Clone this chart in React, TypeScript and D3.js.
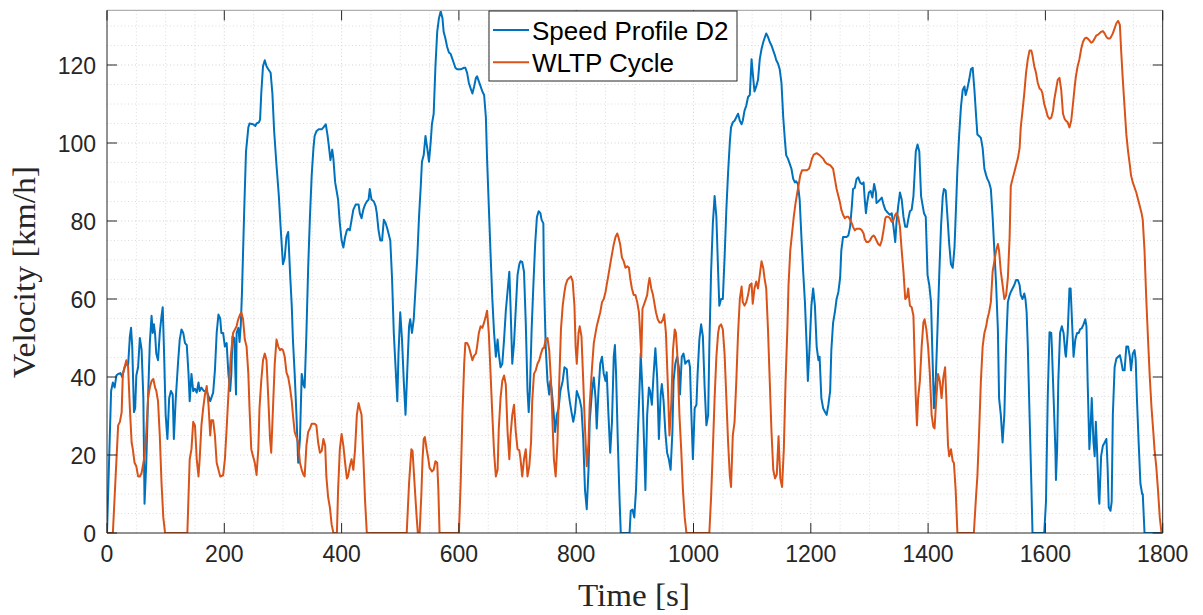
import React, { useRef, useEffect } from "react";
import * as d3 from "d3";

// [time s, velocity km/h]
const speedProfileD2: [number, number][] = [
  [0,0],[7,36.4],[10,38.6],[13,37.3],[16,40.4],[19,40.8],[23,41],[26,40],[30,42.5],[33,43.4],[36,43],[39,50.4],[41,52.6],[43,47.8],[46,31],[48,32],[50,40.4],[53,42.5],[56,50],[59,47],[62,34.6],[64,7.5],[67,18],[70,34.6],[73,48.7],[76,55.7],[78,51.3],[80,53.5],[82,51],[84,46],[87,44.3],[90,51.3],[93,55.7],[95,57.9],[97,47.8],[100,30.3],[103,24.1],[106,34.6],[109,36.4],[112,35.5],[114,24.1],[117,33.8],[121,43.4],[124,49.6],[127,52.2],[130,51.3],[133,48.7],[136,48.2],[139,40.8],[141,33.8],[144,40.8],[147,36.4],[150,37],[153,36],[156,38.6],[158,36.4],[161,37.3],[165,36.4],[170,36.4],[176,33.8],[181,36],[184,41.7],[187,51.3],[190,56],[193,55],[195,51.3],[198,51.3],[201,47.8],[204,48.7],[207,40.8],[210,36.4],[212,40.8],[214,50.4],[217,50],[220,35.5],[221,51.3],[224,52.6],[226,49],[228,53],[230,61],[234,83],[237,97.8],[241,104],[243,105],[249,104.8],[253,104.4],[255,105],[259,105.3],[261,106],[263,112.7],[266,119.7],[269,121.2],[272,119.7],[275,118.9],[279,118],[282,112.7],[285,103],[289,94.3],[293,86.4],[296,78.5],[300,68.9],[303,70.6],[306,75.9],[309,77.2],[312,67],[315,58.3],[317,49.6],[320,40.8],[323,30.3],[326,18],[329,24.1],[332,40.8],[335,38],[337,37.3],[340,51.3],[343,68],[346,81],[349,91.7],[352,98.7],[354,101.8],[357,103],[361,103.5],[366,103.5],[369,104],[373,104.8],[376,102],[378,99.6],[381,95.6],[384,98.3],[386,96],[389,89.9],[392,87.3],[394,85.5],[397,79.4],[400,75],[403,73.2],[406,75.9],[409,77.6],[411,78],[414,77.6],[417,80.3],[420,82.9],[424,84.2],[429,84.2],[431,82],[434,80.7],[437,82.9],[440,84.2],[443,85],[446,85.5],[448,88.2],[451,85.5],[455,85],[458,83.8],[460,82],[463,77.6],[466,75],[469,75],[472,80.3],[475,79.5],[478,78],[480,76.8],[483,75],[486,65.4],[489,51.3],[492,42.5],[495,33.8],[497,46],[500,56.6],[503,49.6],[506,39],[509,30.3],[512,41.7],[515,53],[517,54.8],[520,51.3],[523,54.8],[526,62.7],[529,70.6],[532,81.1],[535,89],[537,95.2],[540,96.9],[543,101.8],[546,98.7],[549,95.2],[552,100.4],[554,104.8],[557,107.5],[560,119.7],[563,128.5],[566,132],[569,133.8],[572,132],[574,128.5],[577,126.8],[580,124.6],[583,123.2],[586,122.8],[589,121.5],[592,120.2],[594,119.3],[597,118.9],[603,118.9],[609,119.3],[611,119.3],[614,118],[617,115.4],[620,114],[623,112.7],[626,114.5],[629,116.7],[631,117.1],[634,115.8],[637,114.5],[640,113.2],[643,112.3],[646,106.6],[648,96],[651,83.8],[654,71.5],[657,60],[660,51.3],[663,45.2],[666,49.6],[668,46],[671,42.5],[674,43.4],[677,49.6],[680,57],[683,62],[686,67],[688,58.3],[691,43.4],[694,48.7],[697,57.5],[700,66.2],[703,68.9],[705,69.7],[708,69.5],[711,67],[714,54],[717,36.4],[719,31],[721,36.4],[724,52.2],[727,63.6],[730,74],[733,81],[736,82.5],[739,82],[741,80.3],[744,79.4],[745,65.4],[748,47.8],[751,39],[754,35.5],[756,39],[758,37],[761,32],[764,25.9],[767,30.3],[770,32],[773,36.4],[777,39],[780,42.5],[784,42],[786,37.3],[789,33.8],[792,31],[795,28.5],[798,31],[801,36.4],[803,35.5],[806,34.2],[809,32],[812,24.1],[815,11],[818,6.1],[821,16.2],[823,28.5],[827,36.4],[830,39.9],[833,34.6],[835,26.8],[838,36.4],[841,43.4],[844,45.2],[847,40.8],[850,39],[852,41.2],[855,30.3],[858,20.6],[861,28.5],[864,45.2],[866,48.2],[868,40.8],[871,23.2],[874,8.3],[876,0],[891,0],[893,5.7],[896,6],[899,4],[902,11],[905,25],[908,37.3],[910,46],[913,36.4],[916,21.5],[918,11],[921,30.3],[924,37.3],[926,36.4],[929,32.9],[932,40.8],[935,47.4],[938,40],[941,24.1],[944,35.5],[946,38.2],[949,33.8],[952,25.9],[955,20.6],[958,18.9],[961,16.2],[964,25.9],[966,39],[969,43.4],[972,45.2],[975,42.5],[977,35.5],[980,45.2],[983,46],[986,43.4],[989,44],[992,44.3],[994,42.5],[996,32],[999,18.9],[1002,32],[1005,32.9],[1007,40.8],[1010,49.6],[1013,53.5],[1016,50.4],[1019,37.3],[1022,27.6],[1025,30.3],[1027,47.8],[1030,67],[1033,79.4],[1036,86.4],[1039,81.1],[1042,67],[1044,58.3],[1047,60],[1050,60],[1053,70.6],[1056,82.9],[1059,92.5],[1062,100.4],[1064,104],[1067,105.3],[1070,105.7],[1073,106.6],[1076,107.5],[1079,105.7],[1082,104.8],[1084,105.7],[1087,108.3],[1090,109.6],[1093,111.8],[1096,112.3],[1099,121.5],[1101,118],[1104,113.2],[1107,114.5],[1110,116.2],[1113,121.5],[1116,124.1],[1119,125.9],[1121,126.8],[1124,128.1],[1127,127.2],[1130,125.9],[1133,125],[1136,123.7],[1139,122.4],[1141,121.3],[1144,120.4],[1147,118.9],[1150,115.4],[1153,106.6],[1156,100.4],[1158,96.9],[1161,96],[1164,94.7],[1167,93.4],[1170,90.8],[1173,89.9],[1175,90.2],[1178,89.5],[1181,85.5],[1184,75.9],[1187,67],[1190,59.2],[1193,47.8],[1195,39],[1198,47.8],[1201,58.3],[1204,62.7],[1207,58.3],[1210,47.8],[1213,44.3],[1215,45.2],[1218,34.6],[1221,32],[1224,31.1],[1227,30.3],[1230,32.9],[1233,36.4],[1235,46.9],[1238,53.9],[1241,56.6],[1244,60],[1247,61.8],[1250,65.4],[1252,72.4],[1255,75.9],[1258,75.9],[1261,75.9],[1264,76.3],[1267,78.5],[1270,83.8],[1272,88.2],[1275,88.5],[1278,90.8],[1281,91.2],[1284,89.9],[1287,89.5],[1290,89.9],[1292,85.5],[1294,82],[1296,84.6],[1299,87.3],[1302,87.7],[1305,86],[1308,89.5],[1311,87.3],[1312,84.6],[1315,85],[1318,85.5],[1321,86],[1324,84.2],[1327,82.9],[1329,82.5],[1332,82],[1335,81.6],[1338,82],[1341,78.5],[1344,74.6],[1346,79.4],[1349,83.8],[1352,87.3],[1355,85.5],[1358,81.1],[1361,78.5],[1364,78.5],[1366,80.3],[1369,82.5],[1372,82.9],[1375,86.4],[1377,92],[1379,97.8],[1382,99.6],[1385,97.8],[1388,86.4],[1390,84.6],[1393,82],[1396,81.1],[1399,66.2],[1402,63.6],[1405,59.2],[1407,47.8],[1410,32],[1413,39],[1416,52.2],[1419,66.2],[1422,78.5],[1425,86.4],[1427,88.2],[1430,87.8],[1433,81.1],[1436,74.1],[1439,68.9],[1442,68],[1445,73.2],[1447,81.1],[1450,93.4],[1453,102.2],[1456,109.2],[1459,113.6],[1462,114.5],[1464,112.3],[1467,114],[1470,116.2],[1473,118.9],[1476,119.3],[1479,113.6],[1482,106.6],[1484,102.2],[1487,101.8],[1490,101.3],[1493,98.7],[1496,93.4],[1499,91.7],[1501,90.8],[1504,89.9],[1507,88.2],[1510,81.1],[1513,72.4],[1516,63.6],[1519,52.2],[1521,34.6],[1524,30.3],[1527,23.2],[1530,30.3],[1533,47.8],[1536,59.2],[1539,61],[1541,61.8],[1544,62.7],[1547,63.6],[1550,64.9],[1553,64.9],[1556,63.6],[1558,61],[1561,60],[1564,61.4],[1566,60],[1568,56.6],[1570,47.8],[1573,30.3],[1576,12.7],[1578,0],[1598,0],[1601,8],[1604,35],[1607,51.5],[1610,51.3],[1611,47.8],[1614,34.6],[1617,21.5],[1618,13.6],[1620,21.5],[1622,39],[1625,51.3],[1628,53],[1631,51.3],[1634,46],[1635,45.2],[1638,51.3],[1641,62.7],[1643,62.7],[1646,52.2],[1648,45.2],[1651,49.6],[1654,51.3],[1657,51.3],[1659,52.2],[1662,52.5],[1665,53.5],[1668,54.8],[1670,53],[1672,39],[1675,21.5],[1677,26.8],[1679,34.6],[1682,23.2],[1684,19.7],[1686,28.5],[1688,21.5],[1691,9.2],[1692,7.5],[1695,19.7],[1698,22.4],[1701,23.2],[1704,24.1],[1706,17.1],[1708,6.6],[1711,5.7],[1713,8],[1715,30.3],[1718,42.5],[1721,44.7],[1724,45.2],[1727,45.6],[1729,44.3],[1732,41.7],[1735,41.7],[1738,47.8],[1741,47.8],[1744,45.2],[1746,41.7],[1749,46],[1752,46.9],[1754,44.3],[1756,34.6],[1759,23.2],[1762,12.7],[1765,10],[1766,10],[1769,0],[1800,0]
];

const wltpCycle: [number, number][] = [
  [0,0],[10,0],[19,27.6],[22,28.5],[25,31],[27,40.8],[30,42.5],[33,44.3],[36,42.5],[39,32],[42,23.2],[44,21.5],[47,18],[50,17.1],[53,14.5],[56,14.5],[59,15.4],[62,18],[64,19.7],[67,25.9],[70,34.6],[73,37.3],[76,39],[79,39.5],[82,37.3],[84,36.5],[87,33.8],[90,25],[93,12.7],[96,4],[99,0],[137,0],[141,18.9],[144,21.5],[147,28.5],[150,27.6],[153,18.9],[156,14.5],[158,18.9],[161,27.6],[164,32],[167,35.5],[170,37.7],[173,33],[176,25],[178,28.9],[181,28.9],[184,25],[187,18],[193,14.5],[198,14.8],[201,18.9],[204,26.8],[207,35.5],[211,45.2],[215,51.3],[221,53],[223,54.4],[226,55.7],[229,56.6],[232,54.8],[235,49.6],[238,47.8],[241,40.8],[243,32],[246,21.5],[249,19.7],[252,18],[255,14.9],[258,21.5],[260,32],[263,39],[266,44.3],[269,46],[272,44.3],[275,34.6],[278,24.1],[280,20.6],[283,32],[286,43.4],[289,49.6],[292,47.8],[295,46.9],[298,47.2],[300,46.9],[303,45.2],[306,41.2],[309,39.9],[312,37.3],[315,33.8],[317,30.3],[320,25.9],[323,24.6],[326,23.2],[329,18],[332,16.2],[335,14.9],[337,14.5],[340,22.4],[343,25.9],[346,26.8],[349,28],[354,28],[357,27.6],[360,23.2],[363,20.6],[366,21],[369,24.1],[372,22.4],[374,14.5],[377,9.2],[380,6.6],[383,2.2],[386,0],[392,0],[394,11],[397,21.5],[400,25.4],[403,22.4],[406,18],[409,14],[411,14.5],[414,17.1],[417,18.9],[420,16.2],[423,21.5],[426,30.3],[429,33.3],[431,32],[434,30.3],[437,19.7],[440,8.3],[443,0],[511,0],[515,12.7],[519,21.5],[521,21],[524,13.6],[528,4],[530,0],[533,0],[536,10],[538,18.9],[540,24.1],[542,24.6],[545,21.5],[548,18.9],[550,16.7],[554,15.8],[557,16.2],[560,18.4],[563,18],[565,11],[567,0],[600,0],[603,12.7],[606,30.3],[609,43.4],[611,48.7],[614,48.7],[617,47.8],[620,46],[623,44.3],[626,45.5],[629,46],[631,47.8],[634,51.3],[637,53],[640,52.6],[643,54],[646,55.7],[648,57],[651,51.3],[654,40.8],[657,30.3],[660,20.6],[663,14.5],[666,16.2],[668,26.8],[671,34.6],[674,39],[677,40.4],[680,38],[683,25.9],[686,18.9],[688,25],[691,30.3],[694,32.9],[697,25.9],[700,21.5],[703,21.2],[705,19],[708,14.5],[711,18.9],[714,21.5],[717,14.5],[720,17.1],[723,23.2],[725,33.8],[728,40.8],[731,41.7],[734,43.4],[737,44.3],[740,46],[743,47.4],[745,47.4],[748,49.6],[751,50],[754,46.9],[757,39],[760,26.8],[762,18.9],[765,14.5],[768,23.2],[771,38.2],[774,52.2],[777,58.3],[780,61.8],[782,63.6],[785,64.9],[788,65.4],[791,65.8],[794,64.5],[797,58.3],[799,47.8],[801,43.4],[804,51.3],[806,53],[809,50.4],[812,39],[815,26.8],[818,17.1],[821,23.2],[823,32.9],[827,42.5],[830,48.7],[833,51.3],[835,53],[838,54.8],[841,56.6],[844,59.2],[847,60],[850,61.8],[852,63.6],[855,66.2],[858,68.9],[861,71.5],[864,74],[867,75.9],[870,76.8],[872,75.9],[875,74],[878,70.6],[881,69.7],[884,68],[887,68.4],[890,68],[892,65.4],[895,62.7],[898,61],[901,61],[904,59.2],[907,56.6],[909,51.3],[911,45],[913,57.5],[917,59.2],[921,61],[923,63.6],[925,65.4],[928,62.7],[931,61],[933,59.2],[936,56.6],[939,54.8],[942,54],[945,54],[948,54.8],[950,56.1],[953,51.3],[956,39],[959,25],[962,32.9],[965,46.9],[968,52.2],[970,51.3],[973,44.3],[976,30.3],[979,21.5],[982,11],[985,4],[988,0],[1027,0],[1030,9.2],[1033,21.5],[1036,34.6],[1039,45.2],[1042,51.3],[1044,53],[1047,53.5],[1050,52.2],[1053,46],[1056,34.6],[1059,23.2],[1062,14.5],[1064,11.8],[1067,25],[1070,28.5],[1073,39],[1076,51.3],[1079,60],[1082,63.2],[1084,59.2],[1087,58.3],[1090,59.2],[1093,61],[1096,63.6],[1099,64],[1101,58.8],[1104,62.7],[1107,64.5],[1110,62.7],[1113,66.2],[1116,69.7],[1119,67.9],[1121,65.4],[1124,62.7],[1127,52.2],[1130,39],[1133,25.9],[1136,16.2],[1139,14],[1142,15],[1145,24.8],[1148,14],[1151,11.8],[1154,21.5],[1157,39],[1160,52.2],[1162,63.6],[1165,72.4],[1168,76.8],[1171,81.1],[1174,84.6],[1177,87.3],[1180,89.9],[1182,91.7],[1185,93],[1193,93],[1197,93.4],[1199,94.3],[1202,96],[1205,97],[1210,97.4],[1215,96.9],[1221,96],[1224,95.2],[1227,94.7],[1233,94.3],[1238,93.4],[1241,90.8],[1244,88.2],[1247,86.4],[1250,84.6],[1252,82.9],[1255,81.6],[1258,80.7],[1261,81.1],[1264,81.1],[1267,80.3],[1270,79.4],[1272,78.5],[1275,77.6],[1278,78],[1284,78],[1287,77.6],[1290,76.8],[1292,75.4],[1295,74.6],[1298,74.6],[1301,75],[1304,75.9],[1307,76.3],[1309,76],[1312,75],[1315,74.1],[1318,73.7],[1321,75],[1324,77.6],[1327,80.7],[1329,81.1],[1332,81.1],[1335,80.7],[1338,79.8],[1341,80.3],[1344,81.6],[1346,82],[1349,81.1],[1352,78.5],[1355,72.4],[1358,67],[1361,60],[1364,60.5],[1366,62.7],[1369,58.3],[1372,57.9],[1375,55.7],[1377,45],[1379,34.6],[1381,27.6],[1383,34.6],[1386,39],[1389,47.8],[1392,54],[1394,54.8],[1397,52.2],[1400,47.8],[1403,40.8],[1406,30.3],[1409,27.2],[1411,26.8],[1414,34.6],[1417,40.8],[1420,39],[1423,34.6],[1426,39.9],[1429,42.5],[1431,34.6],[1434,22.4],[1436,19.7],[1439,21.5],[1442,18.4],[1444,18],[1447,11],[1450,0],[1478,0],[1482,10],[1484,14.5],[1487,25.9],[1490,39],[1493,47.8],[1496,51.3],[1499,53],[1501,54.8],[1504,56.6],[1507,59.2],[1510,67],[1513,69.7],[1516,72.4],[1519,74.1],[1521,72.4],[1524,67],[1527,63.6],[1530,60],[1533,60.9],[1536,65.4],[1539,75.9],[1541,89],[1544,90.8],[1547,92.5],[1550,94.3],[1553,96],[1556,98.7],[1558,104],[1561,108.3],[1564,112.7],[1567,118],[1570,121.5],[1573,123.7],[1576,123.7],[1578,122.4],[1581,119.7],[1584,118],[1587,115.4],[1590,114],[1593,113.6],[1595,112.7],[1598,110],[1601,108.5],[1604,106.8],[1607,106.2],[1610,106.5],[1613,108.3],[1615,111],[1618,113.6],[1621,116.2],[1624,116.7],[1627,113.6],[1630,107.5],[1633,106.1],[1635,105.7],[1638,105.3],[1641,104],[1644,105.7],[1647,110],[1650,114.5],[1652,117.1],[1655,119.7],[1658,121.5],[1661,124.1],[1664,125.9],[1667,126.8],[1670,127],[1672,126.8],[1675,126.3],[1678,125.7],[1681,126],[1684,126.8],[1687,127.6],[1690,127.8],[1692,128.1],[1695,128.5],[1698,128.7],[1701,128.1],[1704,127.2],[1707,126.8],[1710,126.8],[1712,127.2],[1715,128.1],[1718,129.4],[1721,130.7],[1724,131.3],[1727,130.3],[1729,124.1],[1732,116.2],[1735,109.2],[1738,102.2],[1741,97.8],[1744,94.3],[1746,91.7],[1749,89.9],[1752,88.6],[1755,87.3],[1758,85.5],[1761,83.8],[1764,82],[1766,80.3],[1769,72.4],[1772,60],[1775,49.6],[1778,39.9],[1781,32],[1784,25.9],[1786,21.5],[1789,17.1],[1792,11],[1795,4],[1798,0],[1800,0]
];

const seriesNames = ["Speed Profile D2", "WLTP Cycle"];
const seriesColors = ["#0072BD", "#D95319"];
const xTicks = [0, 200, 400, 600, 800, 1000, 1200, 1400, 1600, 1800];
const yTicks = [0, 20, 40, 60, 80, 100, 120];

const App = () => {
  const svgRef = useRef<SVGSVGElement>(null);

  useEffect(() => {
    const svg = d3.select(svgRef.current);
    svg.selectAll("*").remove();

    const left = 107, right = 1162.7, top = 10.4, bottom = 533;
    const x = d3.scaleLinear().domain([0, 1800]).range([left, right]);
    const y = d3.scaleLinear().domain([0, 134]).range([bottom, top]);
    const axisColor = "#262626";
    const tickFont = "'Liberation Sans', Arial, Helvetica, sans-serif";

    svg.append("rect").attr("width", 1203).attr("height", 615).attr("fill", "#fff");

    // grid (minor dotted + major)
    const grid = svg.append("g");
    d3.range(50, 1800, 50).forEach((t) => {
      grid.append("line")
        .attr("x1", x(t)).attr("x2", x(t)).attr("y1", top).attr("y2", bottom)
        .attr("stroke", t % 200 === 0 ? "#d2d2d2" : "#dcdcdc")
        .attr("stroke-dasharray", "1,2.5");
    });
    d3.range(5, 134, 5).forEach((v) => {
      grid.append("line")
        .attr("x1", left).attr("x2", right).attr("y1", y(v)).attr("y2", y(v))
        .attr("stroke", v % 20 === 0 ? "#d2d2d2" : "#dcdcdc")
        .attr("stroke-dasharray", "1,2.5");
    });

    // lines
    svg.append("clipPath").attr("id", "plot-clip")
      .append("rect").attr("x", left).attr("y", top - 1)
      .attr("width", right - left).attr("height", bottom - top + 1);

    const line = d3.line<[number, number]>()
      .x((d) => x(d[0]))
      .y((d) => y(d[1]));

    [speedProfileD2, wltpCycle].forEach((data, i) => {
      svg.append("path")
        .datum(data)
        .attr("clip-path", "url(#plot-clip)")
        .attr("fill", "none")
        .attr("stroke", seriesColors[i])
        .attr("stroke-width", 2)
        .attr("stroke-linejoin", "round")
        .attr("d", line);
    });

    // box
    svg.append("line").attr("x1", left).attr("x2", right).attr("y1", top).attr("y2", top)
      .attr("stroke", "#b0b0b0").attr("stroke-width", 1.2);
    svg.append("line").attr("x1", left).attr("x2", right).attr("y1", bottom).attr("y2", bottom)
      .attr("stroke", axisColor);
    svg.append("line").attr("x1", left).attr("x2", left).attr("y1", top).attr("y2", bottom)
      .attr("stroke", axisColor);
    svg.append("line").attr("x1", right).attr("x2", right).attr("y1", top).attr("y2", bottom)
      .attr("stroke", axisColor);

    // ticks, inward on all sides
    const tl = 10;
    xTicks.forEach((t) => {
      svg.append("line").attr("x1", x(t)).attr("x2", x(t)).attr("y1", bottom).attr("y2", bottom - tl)
        .attr("stroke", axisColor);
      svg.append("line").attr("x1", x(t)).attr("x2", x(t)).attr("y1", top).attr("y2", top + tl)
        .attr("stroke", axisColor);
      svg.append("text")
        .attr("x", x(t)).attr("y", 562)
        .attr("text-anchor", "middle")
        .attr("font-family", tickFont).attr("font-size", 23)
        .attr("fill", axisColor)
        .text(t);
    });
    yTicks.forEach((v) => {
      svg.append("line").attr("x1", left).attr("x2", left + tl).attr("y1", y(v)).attr("y2", y(v))
        .attr("stroke", axisColor);
      svg.append("line").attr("x1", right).attr("x2", right - tl).attr("y1", y(v)).attr("y2", y(v))
        .attr("stroke", axisColor);
      svg.append("text")
        .attr("x", 96).attr("y", y(v) + 8.5)
        .attr("text-anchor", "end")
        .attr("font-family", tickFont).attr("font-size", 23)
        .attr("fill", axisColor)
        .text(v);
    });

    // axis labels
    const serif = "'Liberation Serif', 'DejaVu Serif', serif";
    svg.append("text")
      .attr("x", 634).attr("y", 606)
      .attr("text-anchor", "middle")
      .attr("font-family", serif).attr("font-size", 31)
      .attr("textLength", 112).attr("lengthAdjust", "spacingAndGlyphs")
      .attr("fill", axisColor)
      .text("Time [s]");
    svg.append("text")
      .attr("transform", "translate(35,272) rotate(-90)")
      .attr("text-anchor", "middle")
      .attr("font-family", serif).attr("font-size", 31)
      .attr("textLength", 212).attr("lengthAdjust", "spacingAndGlyphs")
      .attr("fill", axisColor)
      .text("Velocity [km/h]");

    // legend
    const lg = svg.append("g");
    lg.append("rect")
      .attr("x", 489).attr("y", 11).attr("width", 248).attr("height", 70)
      .attr("fill", "#fff").attr("stroke", axisColor).attr("stroke-width", 1);
    seriesNames.forEach((name, i) => {
      const ly = 30 + i * 32.3;
      lg.append("line")
        .attr("x1", 493).attr("x2", 529).attr("y1", ly).attr("y2", ly)
        .attr("stroke", seriesColors[i]).attr("stroke-width", 2);
      lg.append("text")
        .attr("x", 532).attr("y", ly + 9.5)
        .attr("font-family", tickFont).attr("font-size", 26)
        .attr("fill", "#000")
        .text(name);
    });
  }, []);

  return (
    <svg
      ref={svgRef}
      width={1203}
      height={615}
      style={{ position: "absolute", left: 0, top: 0 }}
    />
  );
};

export default App;
